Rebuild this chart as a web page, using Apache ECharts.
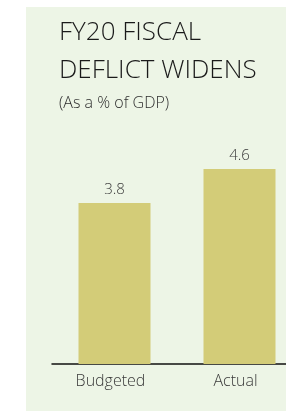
<!DOCTYPE html>
<html>
<head>
  <meta charset="utf-8">
  <title>FY20 fiscal deficit</title>
  <script src="https://cdn.jsdelivr.net/npm/echarts@6/dist/echarts.min.js"></script>
  <style>
    html, body { margin: 0; padding: 0; background: #ffffff; }
    #chart { width: 286px; height: 412px; }
  </style>
</head>
<body>
<div id="chart"></div>
<script>
  // 数据
  var categories = ['Budgeted', 'Actual'];
  var deficit = [3.8, 4.6];

  var font = '"Open Sans", "Noto Sans", sans-serif';
  var myChart = echarts.init(document.getElementById('chart'));

  var option = {
    animation: false,
    graphic: [{
      type: 'rect',
      z: -10,
      shape: { x: 26, y: 7, width: 260, height: 404 },
      style: { fill: '#edf5e6' }
    }],
    title: [{
      text: 'FY20 FISCAL\nDEFLICT WIDENS',
      left: 59,
      top: 14,
      padding: 0,
      textStyle: {
        fontFamily: font,
        fontWeight: 300,
        fontSize: 26,
        lineHeight: 38,
        color: '#1a1a1a'
      }
    }, {
      text: '(As a % of GDP)',
      left: 59,
      top: 94,
      padding: 0,
      textStyle: {
        fontFamily: font,
        fontWeight: 300,
        fontSize: 16,
        lineHeight: 19,
        color: '#2e2e2e'
      }
    }],
    grid: { left: 52, top: 152, right: -16, height: 212, outerBoundsMode: 'none' },
    xAxis: {
      type: 'category',
      data: categories,
      axisLine: { lineStyle: { color: '#111111', width: 1.5 } },
      axisTick: { show: false },
      axisLabel: {
        margin: 9,
        padding: [0, 8, 0, 0],
        fontFamily: font,
        fontWeight: 300,
        fontSize: 16,
        color: '#3a3a3a'
      }
    },
    yAxis: {
      type: 'value',
      min: 0,
      max: 5,
      show: false,
      splitLine: { show: false }
    },
    series: [{
      type: 'bar',
      data: deficit,
      barWidth: 72,
      itemStyle: { color: '#d3cc78' },
      label: {
        show: true,
        position: 'top',
        distance: 6,
        fontFamily: font,
        fontWeight: 300,
        fontSize: 15,
        color: '#3a3a3a'
      }
    }]
  };

  myChart.setOption(option);
  window.onresize = function () { myChart.resize(); };
</script>
</body>
</html>
